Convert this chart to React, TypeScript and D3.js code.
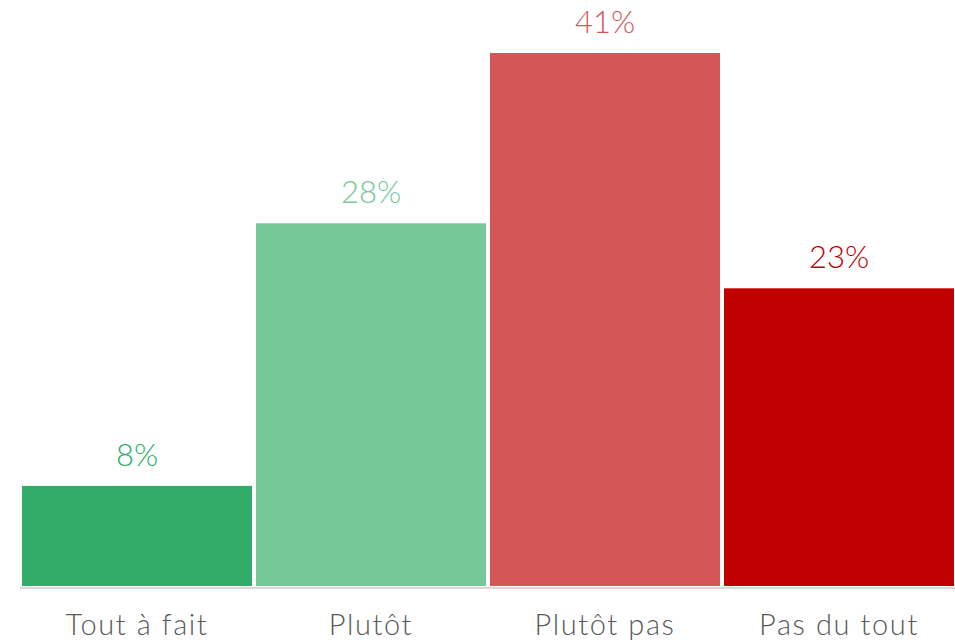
import React from "react";
import * as d3 from "d3";

const categories: string[] = ["Tout à fait", "Plutôt", "Plutôt pas", "Pas du tout"];
const values: number[] = [7.7, 27.9, 41.0, 22.9];
const valueLabels: string[] = ["8%", "28%", "41%", "23%"];
const colors: string[] = ["#31AD69", "#76C89A", "#D45656", "#C00000"];

const W = 955;
const H = 642;
const baseline = 586;
const top = 53;

export default function App() {
  const x = d3.scaleBand<string>().domain(categories).range([20, 956]).paddingInner(0.017).paddingOuter(0.0085);
  const y = d3.scaleLinear().domain([0, 41]).range([baseline, top]);
  const font = "Lato, 'Open Sans', sans-serif";
  return (
    <svg width={W} height={H} style={{ position: "absolute", left: 0, top: 0, background: "#fff" }}>
      {categories.map((c, i) => (
        <g key={c}>
          <rect x={x(c)} y={y(values[i])} width={x.bandwidth()} height={baseline - y(values[i])} fill={colors[i]} />
          <text x={(x(c) as number) + x.bandwidth() / 2} y={y(values[i]) - 20} textAnchor="middle" fill={colors[i]} fontFamily={font} fontSize={31} fontWeight={300}>
            {valueLabels[i]}
          </text>
          <text x={(x(c) as number) + x.bandwidth() / 2} y={635} textAnchor="middle" fill="#595959" fontFamily={font} fontSize={29} fontWeight={300} letterSpacing={1.6}>
            {c}
          </text>
        </g>
      ))}
      <line x1={20} x2={956} y1={baseline + 2} y2={baseline + 2} stroke="#D9D9D9" strokeWidth={2} />
    </svg>
  );
}
